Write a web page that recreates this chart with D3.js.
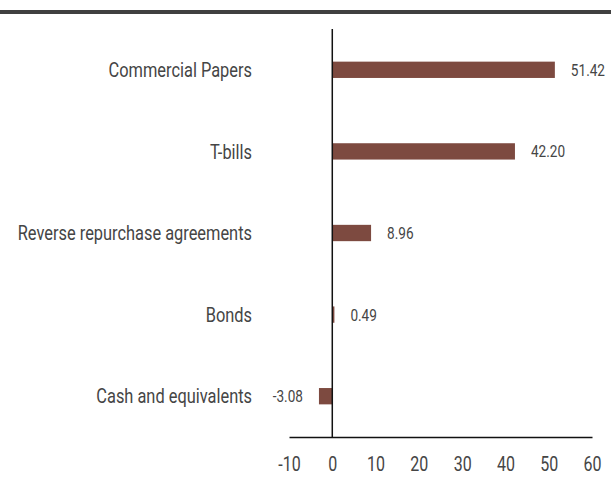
<!DOCTYPE html>
<html>
<head>
<meta charset="utf-8">
<script src="https://cdn.jsdelivr.net/npm/d3@7"></script>
<style>
  body { margin: 0; background: white; }
  text { font-family: Roboto, "Noto Sans", sans-serif; fill: #454545; }
</style>
</head>
<body>
<svg></svg>
<script>
var w = 611
var h = 477

var categories = ["Commercial Papers", "T-bills", "Reverse repurchase agreements", "Bonds", "Cash and equivalents"]
var values = [51.42, 42.20, 8.96, 0.49, -3.08]
var tickValues = [-10, 0, 10, 20, 30, 40, 50, 60]

var barColor = "#7d4a40"
var squeeze = 0.8 // condensed look, no narrow font installed

var svg = d3.select("svg")
  .attr("width", w)
  .attr("height", h)

// dark band on top
svg.append("rect")
  .attr("x", 0).attr("y", 10)
  .attr("width", w).attr("height", 4)
  .attr("fill", "#404040")

var x = d3.scaleLinear()
  .domain([-10, 60])
  .range([289, 592])

var y = d3.scaleBand()
  .domain(categories)
  .range([29, 437])
  .paddingInner(0.8)
  .paddingOuter(0.4)

var data = categories.map(function(c, i) { return {cat: c, val: values[i]} })

// bars
svg.append("g").selectAll("rect")
  .data(data)
  .enter().append("rect")
  .attr("x", function(d) { return x(Math.min(0, d.val)) })
  .attr("y", function(d) { return y(d.cat) })
  .attr("width", function(d) { return Math.abs(x(d.val) - x(0)) })
  .attr("height", y.bandwidth())
  .attr("fill", barColor)

// value labels
svg.append("g").selectAll("text")
  .data(data)
  .enter().append("text")
  .attr("transform", function(d) {
    var lx = d.val < 0 ? x(d.val) - 16 : x(d.val) + 16
    var ly = y(d.cat) + y.bandwidth() / 2
    return "translate(" + lx + "," + ly + ") scale(" + squeeze + ",1)"
  })
  .attr("dy", "0.35em")
  .attr("text-anchor", function(d) { return d.val < 0 ? "end" : "start" })
  .style("font-size", "17px")
  .text(function(d) { return d.val.toFixed(2) })

// category labels
svg.append("g").selectAll("text")
  .data(data)
  .enter().append("text")
  .attr("transform", function(d) {
    return "translate(252," + (y(d.cat) + y.bandwidth() / 2) + ") scale(" + squeeze + ",1)"
  })
  .attr("dy", "0.35em")
  .attr("text-anchor", "end")
  .style("font-size", "20.5px")
  .text(function(d) { return d.cat })

// x axis
var xAxis = d3.axisBottom(x)
  .tickValues(tickValues)
  .tickSize(0)
  .tickPadding(20)
  .tickFormat(function(d) { return String(d) })

var gx = svg.append("g")
  .attr("transform", "translate(0,437)")
  .call(xAxis)
gx.select(".domain").attr("stroke", "#111").attr("stroke-width", 1.5)
gx.selectAll("text")
  .attr("transform", "scale(" + squeeze + ",1)")
  .style("font-size", "20px")

// zero line
svg.append("line")
  .attr("x1", x(0)).attr("x2", x(0))
  .attr("y1", 29).attr("y2", 437)
  .attr("stroke", "#111")
  .attr("stroke-width", 1.5)
</script>
</body>
</html>
